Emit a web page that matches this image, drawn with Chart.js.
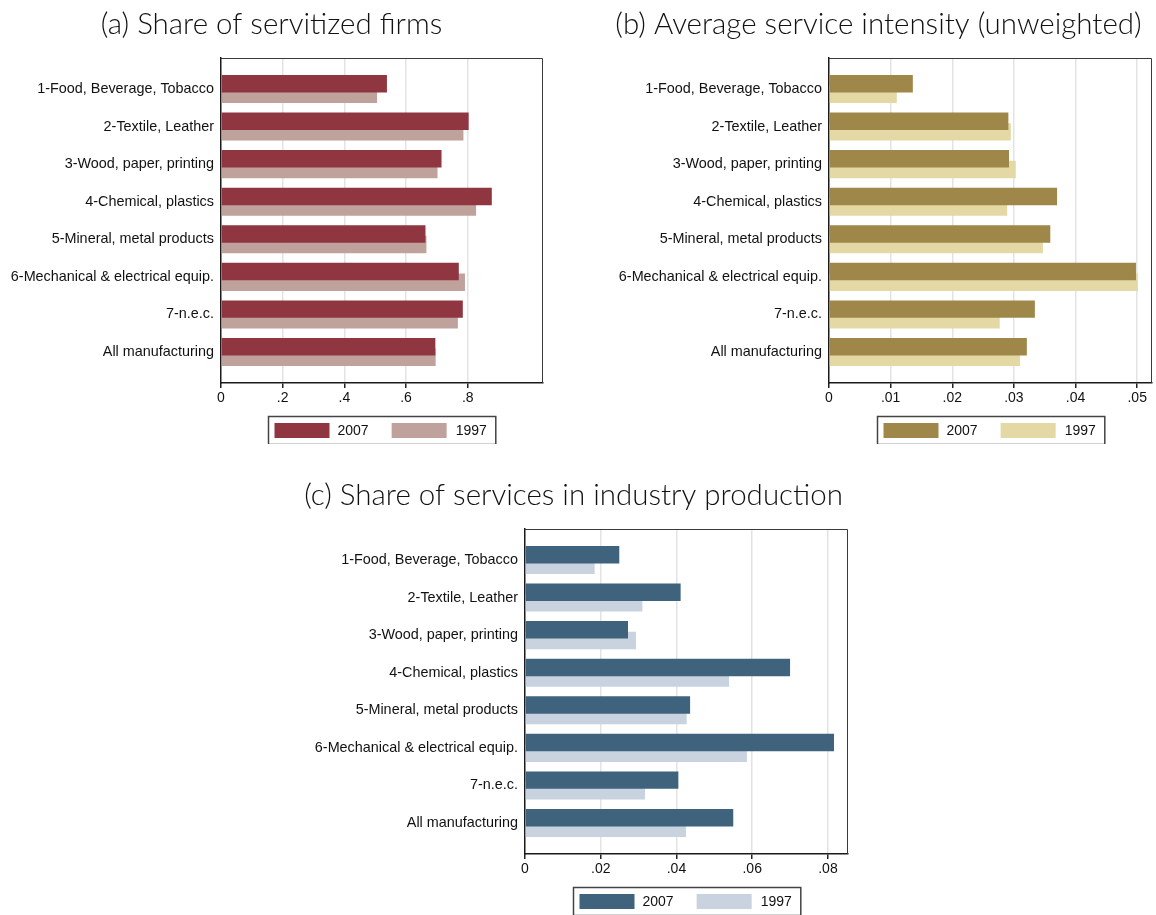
<!DOCTYPE html>
<html>
<head>
<meta charset="utf-8">
<title>Servitization by industry</title>
<script src="https://cdn.jsdelivr.net/npm/chart.js@4"></script>
<style>
  body { margin: 0; background: #fff; }
  #wrap { position: relative; width: 1156px; height: 915px; overflow: hidden; }
  canvas { position: absolute; }
</style>
</head>
<body>
<div id="wrap">
  <canvas id="chartA" width="560" height="444" style="left:0;top:0"></canvas>
  <canvas id="chartB" width="576" height="444" style="left:580px;top:0"></canvas>
  <canvas id="chartC" width="580" height="444" style="left:290px;top:471px"></canvas>
</div>
<script>
// Industries (top to bottom)
const categories = [
  '1-Food, Beverage, Tobacco',
  '2-Textile, Leather',
  '3-Wood, paper, printing',
  '4-Chemical, plastics',
  '5-Mineral, metal products',
  '6-Mechanical & electrical equip.',
  '7-n.e.c.',
  'All manufacturing'
];
const years = ['2007', '1997'];

// (a) share of servitized firms
const firms2007 = [0.538, 0.803, 0.715, 0.878, 0.663, 0.771, 0.784, 0.695];
const firms1997 = [0.506, 0.786, 0.702, 0.827, 0.666, 0.791, 0.768, 0.696];
const firmsTicks = [0, 0.2, 0.4, 0.6, 0.8];

// (b) average service intensity, unweighted
const intensity2007 = [0.0136, 0.0291, 0.0292, 0.0370, 0.0359, 0.0498, 0.0334, 0.0321];
const intensity1997 = [0.0110, 0.0295, 0.0303, 0.0289, 0.0347, 0.0501, 0.0277, 0.0310];
const intensityTicks = [0, 0.01, 0.02, 0.03, 0.04, 0.05];

// (c) share of services in industry production
const production2007 = [0.0249, 0.0411, 0.0272, 0.0700, 0.0436, 0.0816, 0.0405, 0.0550];
const production1997 = [0.0184, 0.0310, 0.0293, 0.0539, 0.0427, 0.0586, 0.0317, 0.0425];
const productionTicks = [0, 0.02, 0.04, 0.06, 0.08];

const LABEL_FONT = '"Liberation Sans", Arial, Helvetica, sans-serif';
const TITLE_FONT = 'Lato, "Open Sans", sans-serif';
const TITLE_SIZE = 29.5;

// Stata style: .2 instead of 0.2
const stripZero = (v) => {
  if (v === 0) return '0';
  return String(+v.toFixed(4)).replace(/^0\./, '.');
};

// frame on top/right plus the boxed legend under the plot
const frameAndLegend = {
  id: 'frameAndLegend',
  afterDraw(chart) {
    const { ctx, chartArea } = chart;
    const sets = chart.data.datasets;
    ctx.save();

    ctx.strokeStyle = '#3a3a3a';
    ctx.lineWidth = 1;
    ctx.beginPath();
    ctx.moveTo(chartArea.left, Math.round(chartArea.top) + 0.5);
    ctx.lineTo(Math.round(chartArea.right) - 0.5, Math.round(chartArea.top) + 0.5);
    ctx.lineTo(Math.round(chartArea.right) - 0.5, chartArea.bottom);
    ctx.stroke();

    ctx.font = '14px ' + LABEL_FONT;
    const sw = 55, sh = 15, boxH = 28;
    const w0 = ctx.measureText(sets[0].label).width;
    const w1 = ctx.measureText(sets[1].label).width;
    const boxW = 6 + sw + 8 + w0 + 23 + sw + 9 + w1 + 9;
    const x = Math.round((chartArea.left + chartArea.right) / 2 - boxW / 2) + 0.5;
    const y = Math.round(chartArea.bottom + 33) + 0.5;
    ctx.strokeStyle = '#444';
    ctx.lineWidth = 1.5;
    ctx.strokeRect(x, y, boxW, boxH);

    let cx = x + 6;
    sets.forEach((ds, i) => {
      ctx.fillStyle = ds.backgroundColor;
      ctx.fillRect(cx, y + 6.5, sw, sh);
      cx += sw + (i === 0 ? 8 : 9);
      ctx.fillStyle = '#111';
      ctx.textBaseline = 'middle';
      ctx.fillText(ds.label, cx, y + boxH / 2 + 1);
      cx += i === 0 ? w0 + 23 : w1;
    });
    ctx.restore();
  }
};

const toPoints = (values) => values.map((v, i) => ({ x: v, y: i }));

function makePanel(id, opts) {
  const ctx = document.getElementById(id).getContext('2d');
  return new Chart(ctx, {
    type: 'bar',
    data: {
      datasets: [
        { label: years[0], data: toPoints(opts.recent), backgroundColor: opts.colors[0] },
        { label: years[1], data: toPoints(opts.base), backgroundColor: opts.colors[1] }
      ]
    },
    options: {
      indexAxis: 'y',
      responsive: false,
      animation: false,
      events: [],
      // bars of a pair overlap a little, 2007 drawn in front
      categoryPercentage: 0.564,
      barPercentage: 1.65,
      layout: { padding: { left: opts.padL, right: opts.padR, top: 0, bottom: 37 } },
      plugins: {
        legend: { display: false },
        tooltip: { enabled: false },
        title: {
          display: true,
          text: opts.title,
          color: '#111',
          font: { family: TITLE_FONT, size: TITLE_SIZE, weight: 300 },
          padding: { top: 7, bottom: 58 - 7 - TITLE_SIZE * 1.2 }
        }
      },
      scales: {
        x: {
          type: 'linear',
          min: 0,
          max: opts.max,
          afterBuildTicks: (scale) => { scale.ticks = opts.ticks.map(v => ({ value: v })); },
          afterFit: (scale) => { scale.height = 24; },
          ticks: {
            autoSkip: false,
            maxRotation: 0,
            padding: 2,
            color: '#111',
            font: { family: LABEL_FONT, size: 14 },
            callback: (v) => stripZero(v)
          },
          grid: {
            color: (c) => (c.tick && c.tick.value === 0 ? 'rgba(0,0,0,0)' : '#e3e3e3'),
            lineWidth: 1.5,
            tickColor: '#222',
            tickLength: 5
          },
          border: { color: '#1a1a1a', width: 1.5 }
        },
        y: {
          type: 'linear',
          reverse: true,
          offset: false,
          min: -0.825,
          max: categories.length - 1 + 0.825,
          afterBuildTicks: (scale) => { scale.ticks = categories.map((_, i) => ({ value: i })); },
          afterFit: (scale) => { scale.width = opts.axisW; },
          ticks: {
            autoSkip: false,
            padding: 7,
            color: '#111',
            font: { family: LABEL_FONT, size: 14.4 },
            callback: (v) => categories[v]
          },
          grid: { display: false, drawTicks: false, offset: false },
          border: { color: '#1a1a1a', width: 1.5 }
        }
      }
    },
    plugins: [frameAndLegend]
  });
}

makePanel('chartA', {
  title: '(a) Share of servitized firms',
  recent: firms2007, base: firms1997, ticks: firmsTicks, max: 1.044,
  colors: ['#8f3640', '#bfa29c'],
  padL: 0, padR: 17, axisW: 221
});

makePanel('chartB', {
  title: '(b) Average service intensity (unweighted)',
  recent: intensity2007, base: intensity1997, ticks: intensityTicks, max: 0.0524,
  colors: ['#9e8749', '#e4d9a5'],
  padL: 25, padR: 4, axisW: 224
});

makePanel('chartC', {
  title: '(c) Share of services in industry production',
  recent: production2007, base: production1997, ticks: productionTicks, max: 0.0853,
  colors: ['#3f637d', '#c8d3df'],
  padL: 9, padR: 22, axisW: 226
});
</script>
</body>
</html>
